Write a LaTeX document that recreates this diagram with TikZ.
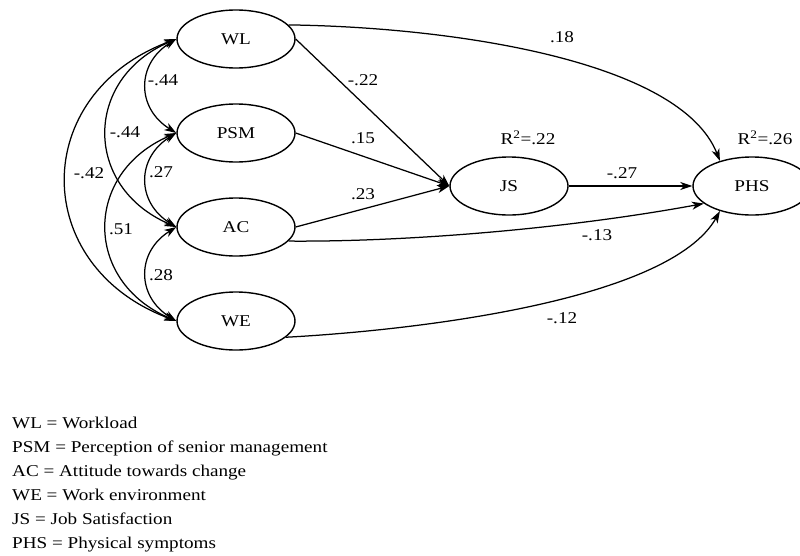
\documentclass[tikz,border=0pt]{standalone}
\usepackage{fontspec}
\setmainfont{Liberation Serif}[FakeStretch=1.16]
\usetikzlibrary{arrows.meta,shapes.geometric}
\begin{document}
\begin{tikzpicture}[x=1pt,y=-1pt,
  font=\fontsize{16.5}{20}\selectfont,
  var/.style={draw,ellipse,line width=1.4pt,minimum width=118pt,minimum height=58pt,inner sep=0pt},
  lbl/.style={inner sep=0pt},
  tip/.tip={Stealth[length=12pt,width=8pt,inset=3.5pt]},
  reg/.style={line width=1.25pt,-tip},
  cov/.style={line width=1.25pt,tip-tip},
  legline/.style={anchor=base west,inner sep=0pt}]
\useasboundingbox (0,0) rectangle (800,555);
% variables
\node[var] (WL)  at (236,39)  {WL};
\node[var] (PSM) at (236,133) {PSM};
\node[var] (AC)  at (236,227) {AC};
\node[var] (WE)  at (236,321) {WE};
\node[var] (JS)  at (509,186) {JS};
\node[var] (PHS) at (752,186) {PHS};
% covariances
\draw[cov] (WL.west) .. controls +(-40,25) and +(-40,-25) .. (PSM.west);
\draw[cov] (PSM.west) .. controls +(-40,25) and +(-40,-25) .. (AC.west);
\draw[cov] (AC.west) .. controls +(-40,25) and +(-40,-25) .. (WE.west);
\draw[cov] (WL.west) .. controls +(-93,40) and +(-93,-40) .. (AC.west);
\draw[cov] (PSM.west) .. controls +(-93,40) and +(-93,-40) .. (WE.west);
\draw[cov] (WL.west) .. controls +(-147,55) and +(-147,-55) .. (WE.west);
\node[lbl] (c1) at (163,80)  {-.44};
\node[lbl] (c2) at (125,132) {-.44};
\node[lbl] (c3) at (89,173)  {-.42};
\node[lbl] (c4) at (161,172) {.27};
\node[lbl] (c5) at (121,229) {.51};
\node[lbl] (c6) at (161,275) {.28};
% paths
\draw[reg] (WL.east) -- (JS.west);
\draw[reg] (PSM.east) -- (JS.west);
\draw[reg] (AC.east) -- (JS.west);
\draw[reg] (JS.east) -- (PHS.west);
\draw[reg] (WL.15) .. controls (450,27) and (680,60) .. (PHS.142);
\draw[reg] (AC.-15) .. controls (400,242) and (560,230) .. (PHS.200);
\draw[reg] (WE.-18) .. controls (420,330) and (670,300) .. (PHS.-142);
\node[lbl] (p1) at (562,37)  {.18};
\node[lbl] (p2) at (363,80)  {-.22};
\node[lbl] (p3) at (363,138) {.15};
\node[lbl] (p4) at (363,194) {.23};
\node[lbl] (p5) at (622,173) {-.27};
\node[lbl] (p6) at (597,235) {-.13};
\node[lbl] (p7) at (562,318) {-.12};
\node[lbl] (r1) at (528,138) {R\textsuperscript{2}=.22};
\node[lbl] (r2) at (765,138) {R\textsuperscript{2}=.26};
% legend
\node[legline] (l1) at (12,428) {WL = Workload};
\node[legline] (l2) at (12,452) {PSM = Perception of senior management};
\node[legline] (l3) at (12,476) {AC = Attitude towards change};
\node[legline] (l4) at (12,500) {WE = Work environment};
\node[legline] (l5) at (12,524) {JS = Job Satisfaction};
\node[legline] (l6) at (12,548) {PHS = Physical symptoms};
\end{tikzpicture}
\end{document}
